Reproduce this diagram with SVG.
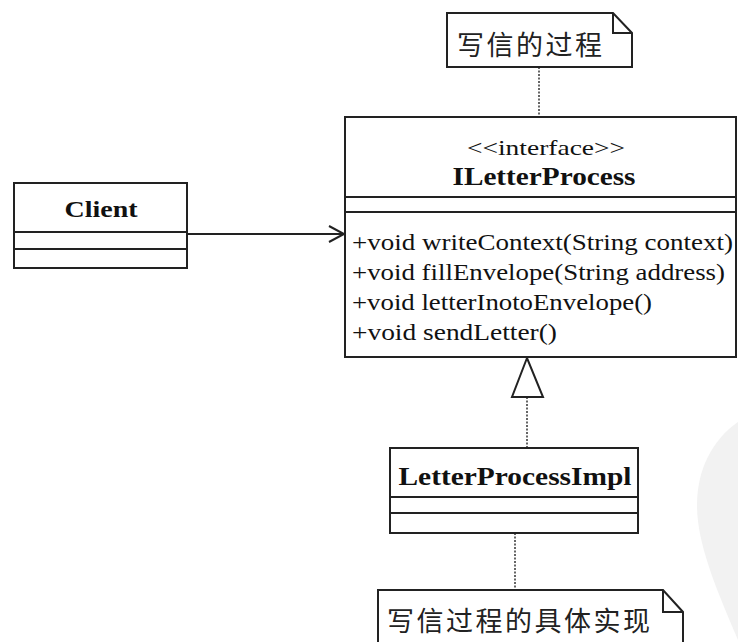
<svg xmlns="http://www.w3.org/2000/svg" width="738" height="642" viewBox="0 0 738 642">
<style>
.box{fill:#fff;stroke:#222;stroke-width:2}
.ln{stroke:#222;stroke-width:2;fill:none}
.dot{stroke:#333;stroke-width:1.5;stroke-dasharray:2 1.5;fill:none}
.t{font-family:"Liberation Serif","Times New Roman",serif;fill:#111}
.b{font-weight:bold}
.cn{font-family:"Noto Sans CJK SC","Noto Sans",sans-serif;fill:#222;font-size:27px;letter-spacing:2.5px}
</style>
<rect width="738" height="642" fill="#fff"/>
<path d="M738,422 C712,440 697,470 697,505 C697,540 712,580 738,640 Z" fill="#f2f2f2"/>
<g id="connectors">
<line class="dot" x1="539" y1="67" x2="539" y2="117"/>
<line class="ln" x1="187" y1="234" x2="344" y2="234"/>
<polyline class="ln" points="329,226 344,234 329,242"/>
<line class="dot" x1="527" y1="397" x2="527" y2="448"/>
<polygon class="box" points="527,358 512,397 543,397"/>
<line class="dot" x1="515" y1="533" x2="515" y2="590"/>
</g>
<g id="note-top">
<path class="box" d="M447,13 H613 L632,33 V67 H447 Z"/>
<polyline class="ln" points="613,13 613,33 632,33" stroke-width="1.5"/>
<text class="cn" x="457" y="55">写信的过程</text>
</g>
<g id="ILetterProcess">
<rect class="box" x="345" y="117" width="391" height="240"/>
<line class="ln" x1="345" y1="197" x2="736" y2="197"/>
<line class="ln" x1="345" y1="212" x2="736" y2="212"/>
<text class="t" x="546" y="155" font-size="22" text-anchor="middle" textLength="158" lengthAdjust="spacingAndGlyphs">&lt;&lt;interface&gt;&gt;</text>
<text class="t b" x="544" y="185" font-size="25" text-anchor="middle" textLength="183" lengthAdjust="spacingAndGlyphs">ILetterProcess</text>
<text class="t" x="352" y="250" font-size="24" textLength="381" lengthAdjust="spacingAndGlyphs">+void writeContext(String context)</text>
<text class="t" x="352" y="280" font-size="24" textLength="373" lengthAdjust="spacingAndGlyphs">+void fillEnvelope(String address)</text>
<text class="t" x="352" y="310" font-size="24" textLength="300" lengthAdjust="spacingAndGlyphs">+void letterInotoEnvelope()</text>
<text class="t" x="352" y="340" font-size="24" textLength="205" lengthAdjust="spacingAndGlyphs">+void sendLetter()</text>
</g>
<g id="Client">
<rect class="box" x="14" y="183" width="173" height="85"/>
<line class="ln" x1="14" y1="232" x2="187" y2="232"/>
<line class="ln" x1="14" y1="249" x2="187" y2="249"/>
<text class="t b" x="101" y="217" font-size="24" text-anchor="middle" textLength="73" lengthAdjust="spacingAndGlyphs">Client</text>
</g>
<g id="LetterProcessImpl">
<rect class="box" x="390" y="448" width="248" height="85"/>
<line class="ln" x1="390" y1="497" x2="638" y2="497"/>
<line class="ln" x1="390" y1="513" x2="638" y2="513"/>
<text class="t b" x="515" y="485" font-size="26" text-anchor="middle" textLength="233" lengthAdjust="spacingAndGlyphs">LetterProcessImpl</text>
</g>
<g id="note-bottom">
<path class="box" d="M378,590 H663 L683,612 V650 H378 Z"/>
<polyline class="ln" points="663,590 663,612 683,612" stroke-width="1.5"/>
<text class="cn" x="387" y="631">写信过程的具体实现</text>
</g>
</svg>
